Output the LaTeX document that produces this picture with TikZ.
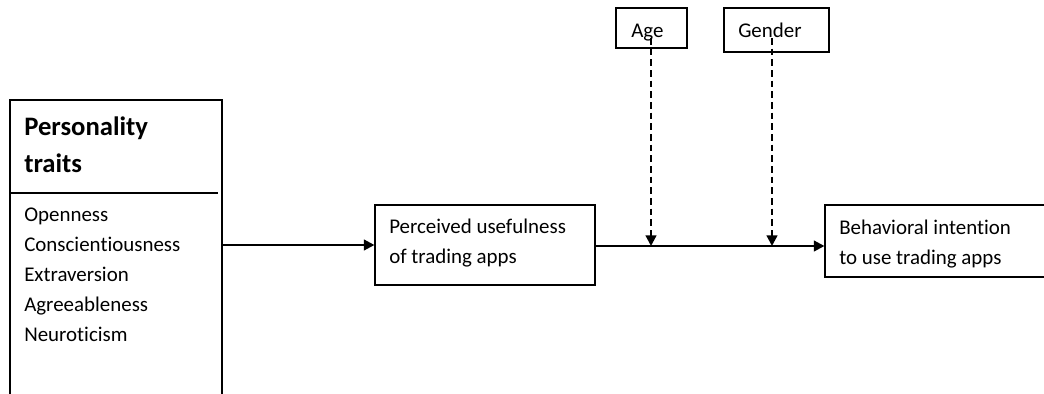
\documentclass[tikz,border=0pt]{standalone}
\usepackage{fontspec}
\setmainfont[Ligatures=NoCommon]{Carlito}
\usetikzlibrary{arrows.meta,fit}
\begin{document}
\begin{tikzpicture}[x=0.75pt,y=-0.75pt,
  box/.style={draw,line width=0.8pt,inner sep=0pt},
  txt/.style={font=\fontsize{15.7}{22.35}\selectfont,align=left,anchor=base west,inner sep=0pt},
  ttl/.style={font=\fontsize{20}{27.75}\selectfont\bfseries,align=left,anchor=base west,inner sep=0pt},
  flow/.style={line width=1.7pt,-{Triangle[length=8pt,width=8pt]}},
  moder/.style={line width=1.7pt,dash pattern=on 5pt off 3pt,-{Triangle[length=8pt,width=8pt]}}]
\useasboundingbox (0,0) rectangle (1044,393);
\clip (0,0) rectangle (1044,393);
% Personality traits box (open at the bottom)
\node[box,fit={(10,100) (222,430)}] (pt) {};
\draw[line width=0.8pt] (10,193) -- (218,193);
% anchors are the baselines of the last lines
\node[ttl] (ptitle) at (24,172) {Personality\\traits};
\node[txt] (items) at (24,341) {Openness\\Conscientiousness\\Extraversion\\Agreeableness\\Neuroticism};
% Perceived usefulness
\node[box,fit={(375,205) (595,285)}] (pu) {};
\node[txt] (putext) at (389,263.5) {Perceived usefulness\\of trading apps};
% Behavioral intention
\node[box,fit={(825,205) (1060,277)}] (bi) {};
\node[txt] (bitext) at (839,264) {Behavioral intention\\to use trading apps};
% Moderators
\node[box,fit={(616,8) (687,48)}] (age) {};
\node[txt] (agetext) at (631,37) {Age};
\node[box,fit={(724,8) (829,52)}] (gender) {};
\node[txt] (gendertext) at (738,37) {Gender};
% connectors
\coordinate (m1) at (651,246);
\coordinate (m2) at (772,246);
\draw[flow] (pt.east |- 0,245) -- (pu.west |- 0,245);
\draw[flow] (pu.east |- m1) -- (bi.west |- m1);
\draw[moder] (651,38) -- (m1);
\draw[moder] (772,38) -- (m2);
\end{tikzpicture}
\end{document}
